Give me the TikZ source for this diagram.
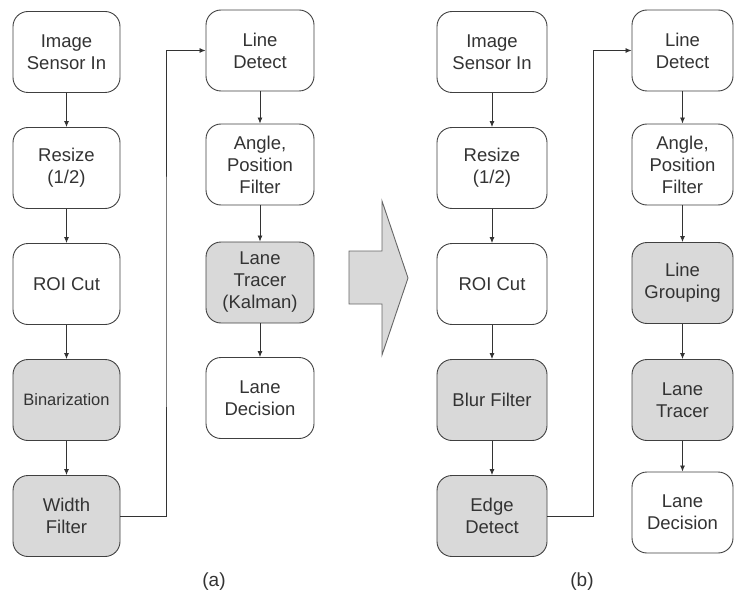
\documentclass[tikz,border=0pt]{standalone}
\usepackage{fontspec}
\setmainfont{Liberation Sans}
\usetikzlibrary{arrows.meta}

\begin{document}
\begin{tikzpicture}[x=1pt,y=-1pt,
    blk/.style={draw=black!75,line width=0.9pt,rounded corners=15pt,fill=white,
      minimum height=81pt,align=center,text=black!80,
      font=\fontsize{18.5}{22}\selectfont},
    blkg/.style={blk,fill=black!15},
    arr/.style={draw=black!80,line width=0.8pt,-{Latex[length=6pt,width=5pt]}}]
      \useasboundingbox (0,0) rectangle (735,596);
      %\draw (0,0) grid (735,596);
      % (a) first column
      \node [blk,minimum width=107pt] (a1) at (66.5,52) {Image\\Sensor In};
      \node [blk,minimum width=107pt] (a2) at (66.5,168) {Resize\\(1/2)};
      \node [blk,minimum width=107pt] (a3) at (66.5,284) {ROI Cut};
      \node [blkg,minimum width=107pt,font=\fontsize{16.5}{20}\selectfont] (a4) at (66.5,400) {Binarization};
      \node [blkg,minimum width=107pt] (a5) at (66.5,516) {Width\\Filter};
      % (a) second column
      \node [blk,minimum width=108pt] (a6) at (260,50.5) {Line\\Detect};
      \node [blk,minimum width=108pt] (a7) at (260,164.5) {Angle,\\Position\\Filter};
      \node [blkg,minimum width=108pt] (a8) at (260,282.5) {Lane\\Tracer\\(Kalman)};
      \node [blk,minimum width=108pt] (a9) at (260,398) {Lane\\Decision};
      \draw [arr] (a1) -- (a2);
      \draw [arr] (a2) -- (a3);
      \draw [arr] (a3) -- (a4);
      \draw [arr] (a4) -- (a5);
      \coordinate (ja) at (166,300);
      \draw [arr] (a5.east) -| (ja) |- (a6.west);
      \draw [arr] (a6) -- (a7);
      \draw [arr] (a7) -- (a8);
      \draw [arr] (a8) -- (a9);
      % big arrow
      \draw [draw=black!60,line width=0.9pt,fill=black!15]
        (349,251) -- (382,251) -- (382,201) -- (408,278) -- (382,355) -- (382,304) -- (349,304) -- cycle;
      % (b) first column
      \node [blk,minimum width=110pt] (b1) at (492,52) {Image\\Sensor In};
      \node [blk,minimum width=110pt] (b2) at (492,168) {Resize\\(1/2)};
      \node [blk,minimum width=110pt] (b3) at (492,284) {ROI Cut};
      \node [blkg,minimum width=110pt] (b4) at (492,400) {Blur Filter};
      \node [blkg,minimum width=110pt] (b5) at (492,516) {Edge\\Detect};
      % (b) second column
      \node [blk,minimum width=101pt] (b6) at (682.5,50.5) {Line\\Detect};
      \node [blk,minimum width=101pt] (b7) at (682.5,164.5) {Angle,\\Position\\Filter};
      \node [blkg,minimum width=101pt] (b8) at (682.5,283) {Line\\Grouping};
      \node [blkg,minimum width=101pt] (b9) at (682.5,400) {Lane\\Tracer};
      \node [blk,minimum width=101pt] (b10) at (682.5,512.5) {Lane\\Decision};
      \draw [arr] (b1) -- (b2);
      \draw [arr] (b2) -- (b3);
      \draw [arr] (b3) -- (b4);
      \draw [arr] (b4) -- (b5);
      \coordinate (jb) at (593,300);
      \draw [arr] (b5.east) -| (jb) |- (b6.west);
      \draw [arr] (b6) -- (b7);
      \draw [arr] (b7) -- (b8);
      \draw [arr] (b8) -- (b9);
      \draw [arr] (b9) -- (b10);
      \node [font=\fontsize{19}{22}\selectfont,text=black!80] (la) at (214,582) {(a)};
      \node [font=\fontsize{19}{22}\selectfont,text=black!80] (lb) at (582,582) {(b)};
    \end{tikzpicture}
\end{document}
